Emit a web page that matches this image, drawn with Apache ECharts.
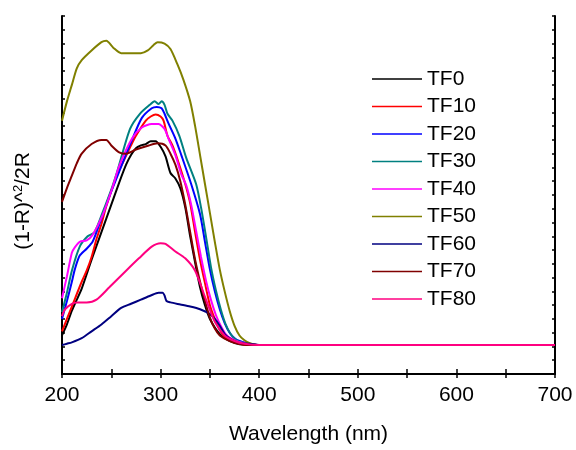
<!DOCTYPE html>
<html>
<head>
<meta charset="utf-8">
<script src="https://cdn.jsdelivr.net/npm/echarts@6/dist/echarts.min.js"></script>
<style>html,body{margin:0;padding:0;background:#fff;}#c{width:576px;height:450px;}</style>
</head>
<body>
<div id="c"></div>
<script>
const seriesNames = ['TF0','TF10','TF20','TF30','TF40','TF50','TF60','TF70','TF80'];
const seriesColors = ['#000000','#ff0000','#0000ff','#008080','#ff00ff','#808000','#000080','#800000','#ff0080'];
const xTicks = [200,300,400,500,600,700];
const tail = [[400,2.1],[450,2.1],[500,2.1],[550,2.1],[600,2.1],[650,2.1],[700,2.1]];

const tf0 = [[200,2.8],[205,3.6],[210,4.6],[215,5.4],[220,6.2],[230,8.3],[240,10.3],[250,12.3],[258,13.9],[265,15.2],[270,15.9],[275,16.4],[280,16.6],[285,16.7],[290,16.9],[295,16.9],[300,16.5],[305,15.8],[310,14.6],[315,14.2],[320,13.5],[325,12.1],[330,10.0],[335,8.1],[340,6.3],[345,5.0],[350,4.0],[360,2.9],[370,2.4],[380,2.15],[390,2.1]];
const tf10 = [[200,3.1],[210,4.9],[220,6.7],[225,7.5],[230,8.5],[235,9.8],[240,10.9],[245,12.2],[255,14.3],[260,15.1],[270,16.6],[275,17.3],[285,18.4],[290,18.7],[295,18.85],[300,18.7],[303,18.4],[307,17.3],[312,16.6],[318,15.4],[325,13.8],[330,12.4],[335,10.3],[340,8.3],[345,6.6],[350,5.0],[355,4.0],[360,3.2],[365,2.7],[370,2.45],[380,2.2],[390,2.1]];
const tf20 = [[200,4.0],[205,5.3],[210,6.7],[213,7.6],[218,8.6],[225,9.1],[231,9.6],[238,10.9],[248,12.9],[258,14.7],[271,17.0],[281,18.6],[291,19.3],[296,19.4],[301,19.3],[304,18.9],[308,18.2],[315,17.1],[321,15.9],[331,13.8],[340,11.6],[345,9.6],[350,7.6],[355,6.0],[360,4.7],[365,3.7],[370,3.0],[375,2.6],[380,2.4],[390,2.2]];
const tf30 = [[200,4.5],[205,5.9],[210,7.5],[218,9.25],[226,10.0],[233,10.3],[241,11.7],[251,13.6],[256,14.7],[269,17.8],[279,18.9],[289,19.55],[294,19.8],[298,19.6],[301,19.8],[304,19.55],[307,18.9],[312,18.4],[319,17.3],[326,15.7],[336,13.8],[341,12.1],[346,10.0],[351,7.8],[356,6.1],[361,4.7],[366,3.6],[371,2.9],[376,2.5],[381,2.3],[390,2.2]];
const tf40 = [[200,5.5],[205,7.1],[210,8.8],[213,9.2],[218,9.6],[225,9.7],[231,10.1],[241,11.5],[251,13.5],[258,15.1],[271,17.1],[281,17.9],[291,18.15],[298,18.15],[304,17.8],[308,17.1],[315,15.9],[321,14.5],[326,13.7],[331,12.3],[336,10.4],[341,8.5],[346,6.8],[351,5.4],[356,4.3],[361,3.5],[366,2.9],[371,2.6],[380,2.3],[390,2.2]];
const tf50 = [[200,18.4],[205,19.8],[210,21.0],[215,22.2],[220,22.8],[230,23.5],[240,24.1],[245,24.2],[252,23.7],[260,23.3],[270,23.3],[280,23.3],[287,23.5],[293,23.9],[297,24.1],[304,24.0],[310,23.6],[317,22.5],[323,21.4],[330,19.8],[335,18.0],[340,15.9],[345,13.8],[350,11.7],[355,9.6],[360,7.6],[365,6.0],[370,4.6],[375,3.5],[380,2.8],[385,2.45],[390,2.25]];
const tf60 = [[200,2.1],[205,2.2],[210,2.3],[220,2.6],[230,3.1],[240,3.6],[250,4.2],[260,4.8],[270,5.1],[280,5.4],[290,5.7],[298,5.9],[302,5.9],[304,5.7],[306,5.3],[310,5.2],[320,5.05],[330,4.9],[340,4.7],[350,4.35],[355,4.0],[360,3.5],[365,2.9],[370,2.6],[375,2.4],[380,2.25],[390,2.2]];
const tf70 = [[200,12.5],[205,13.5],[210,14.4],[215,15.3],[220,16.0],[230,16.7],[240,17.0],[245,17.0],[250,16.6],[258,16.1],[265,16.0],[275,16.3],[288,16.6],[297,16.75],[305,16.6],[310,16.0],[315,15.2],[320,14.0],[325,12.3],[330,10.3],[335,8.3],[340,6.7],[345,5.3],[350,4.1],[355,3.3],[360,2.8],[370,2.4],[380,2.2],[390,2.1]];
const tf80 = [[200,4.2],[203,4.7],[210,5.1],[215,5.2],[225,5.2],[235,5.4],[248,6.3],[265,7.5],[278,8.4],[291,9.25],[300,9.5],[305,9.45],[315,8.9],[325,8.4],[335,7.5],[345,5.6],[355,3.8],[365,2.8],[375,2.4],[385,2.2]];

const allData = [tf0, tf10, tf20, tf30, tf40, tf50, tf60, tf70, tf80];

const chart = echarts.init(document.getElementById('c'), null, {renderer: 'canvas'});
const font = 'Liberation Sans, Arial, sans-serif';
const axisLine = {show: true, lineStyle: {color: '#000', width: 2}};

chart.setOption({
  animation: false,
  backgroundColor: '#fff',
  grid: {left: 62, right: 21, top: 16, bottom: 63, containLabel: false},
  legend: {
    orient: 'vertical', left: 367, top: 63,
    icon: 'path://M0,0 L50,0 L50,1.5 L0,1.5 Z',
    itemWidth: 50, itemHeight: 1.5, itemGap: 5.5,
    textStyle: {fontFamily: font, fontSize: 21, color: '#000', lineHeight: 22},
    data: seriesNames
  },
  graphic: [{
    type: 'text', x: 23, y: 201, rotation: Math.PI / 2,
    style: {
      text: '{a|(1-R)^}{s|2}{a|/2R}',
      align: 'center', verticalAlign: 'middle',
      rich: {
        a: {fontFamily: font, fontSize: 21, fill: '#000', verticalAlign: 'bottom'},
        s: {fontFamily: font, fontSize: 13, fill: '#000', verticalAlign: 'bottom', padding: [0, 0, 9, 0]}
      }
    }
  }],
  xAxis: [{
    type: 'value', min: 200, max: 700, interval: 100,
    name: 'Wavelength (nm)', nameLocation: 'middle', nameGap: 50,
    nameTextStyle: {fontFamily: font, fontSize: 21, color: '#000'},
    axisLine: axisLine,
    axisTick: {inside: true, length: 5, lineStyle: {color: '#000', width: 1.5}},
    minorTick: {show: true, splitNumber: 2, length: 5, lineStyle: {color: '#000', width: 1.5}},
    axisLabel: {fontFamily: font, fontSize: 21, color: '#000', margin: 11},
    splitLine: {show: false}
  }, {
    type: 'value', min: 200, max: 700, interval: 100, position: 'top',
    axisLine: axisLine,
    axisTick: {inside: true, length: 4, lineStyle: {color: '#000', width: 1.5}},
    minorTick: {show: true, splitNumber: 2, length: 4, lineStyle: {color: '#000', width: 1.5}},
    axisLabel: {show: false}, splitLine: {show: false}
  }],
  yAxis: [{
    type: 'value', min: 0, max: 26, interval: 1,
    axisLine: axisLine,
    axisTick: {inside: true, length: 3, lineStyle: {color: '#000', width: 1.5}},
    axisLabel: {show: false}, splitLine: {show: false}
  }, {
    type: 'value', min: 0, max: 26, interval: 1, position: 'right',
    axisLine: axisLine,
    axisTick: {inside: true, length: 3, lineStyle: {color: '#000', width: 1.5}},
    axisLabel: {show: false}, splitLine: {show: false}
  }],
  series: seriesNames.map((n, i) => ({
    name: n, type: 'line', xAxisIndex: 0, yAxisIndex: 0,
    data: allData[i].concat(tail),
    symbol: 'none', showSymbol: false, smooth: 0.25,
    color: seriesColors[i],
    lineStyle: {color: seriesColors[i], width: 2}
  }))
});
</script>
</body>
</html>
